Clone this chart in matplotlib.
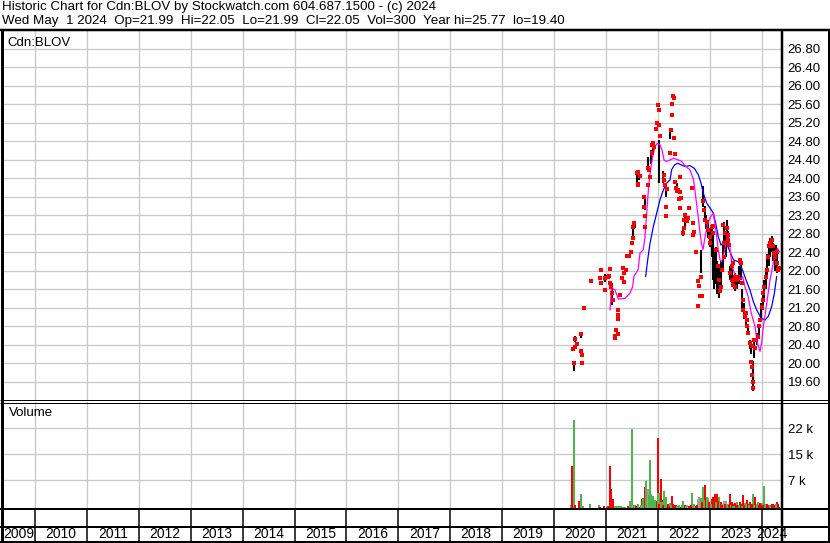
import matplotlib
matplotlib.use("Agg")
import matplotlib.pyplot as plt
from matplotlib.lines import Line2D

# ---- data (dates as decimal years) ----
close_t = [2020.360, 2020.379, 2020.398, 2020.404, 2020.443, 2020.514, 2020.520, 2020.530, 2020.535,
           2020.578, 2020.713, 2020.886, 2020.900, 2020.906, 2020.977, 2020.985, 2021.046, 2021.066,
           2021.079, 2021.085, 2021.098, 2021.110, 2021.140, 2021.175, 2021.180, 2021.194, 2021.227,
           2021.230, 2021.235, 2021.240, 2021.272, 2021.304, 2021.335, 2021.340, 2021.345, 2021.381,
           2021.390, 2021.416, 2021.445, 2021.493, 2021.505, 2021.518, 2021.524, 2021.550, 2021.607,
           2021.610, 2021.614, 2021.620, 2021.652, 2021.730, 2021.734, 2021.750, 2021.760, 2021.803,
           2021.810, 2021.830, 2021.842, 2021.880, 2021.890, 2021.910, 2021.920, 2021.965, 2021.977,
           2021.998, 2022.017, 2022.020, 2022.040, 2022.120, 2022.125, 2022.133, 2022.150, 2022.165,
           2022.170, 2022.235, 2022.248, 2022.270, 2022.274, 2022.287, 2022.306, 2022.318, 2022.331,
           2022.340, 2022.356, 2022.370, 2022.380, 2022.410, 2022.420, 2022.428, 2022.432, 2022.440,
           2022.490, 2022.500, 2022.506, 2022.520, 2022.553, 2022.575, 2022.600, 2022.650, 2022.670,
           2022.680, 2022.695, 2022.736, 2022.768, 2022.780, 2022.794, 2022.813, 2022.832, 2022.845,
           2022.877, 2022.896, 2022.910, 2022.942, 2022.973, 2023.006, 2023.010, 2023.038, 2023.056,
           2023.068, 2023.115, 2023.166, 2023.185, 2023.199, 2023.215, 2023.230, 2023.262, 2023.270,
           2023.276, 2023.295, 2023.327, 2023.346, 2023.358, 2023.377, 2023.391, 2023.424, 2023.430,
           2023.440, 2023.455, 2023.470, 2023.487, 2023.495, 2023.520, 2023.551, 2023.584, 2023.597,
           2023.616, 2023.635, 2023.647, 2023.680, 2023.699, 2023.712, 2023.724, 2023.743, 2023.776,
           2023.789, 2023.809, 2023.815, 2023.821, 2023.828, 2023.840, 2023.850, 2023.873, 2023.936,
           2023.955, 2023.969, 2024.002, 2024.020, 2024.033, 2024.052, 2024.085, 2024.098, 2024.129,
           2024.148, 2024.162, 2024.195, 2024.226, 2024.239, 2024.258, 2024.290, 2024.303, 2024.322,
           2024.335]
close_p = [20.30, 19.99, 20.51, 20.34, 20.42, 20.62, 20.25, 20.18, 19.99,
           21.20, 21.78, 21.84, 22.02, 21.72, 21.84, 21.57, 21.87, 21.88,
           22.04, 21.73, 21.65, 21.51, 21.37, 20.59, 20.54, 20.72, 20.63,
           21.04, 20.96, 21.15, 21.47, 21.84, 22.05, 21.94, 21.76, 22.02,
           22.02, 22.32, 22.32, 22.39, 22.60, 22.70, 22.95, 23.02, 24.10,
           23.85, 23.87, 24.13, 24.05, 23.37, 23.59, 22.95, 23.17, 23.85,
           24.21, 24.18, 24.02, 24.72, 24.54, 24.75, 24.68, 25.05, 25.19,
           25.58, 25.47, 25.15, 24.90, 23.96, 24.07, 23.85, 23.38, 23.18,
           23.76, 24.54, 25.04, 25.37, 25.60, 25.78, 25.74, 24.86, 24.52,
           23.92, 23.78, 23.73, 23.74, 23.55, 23.35, 24.02, 23.69, 23.57,
           22.81, 22.92, 23.10, 23.20, 23.07, 23.13, 23.35, 23.78, 23.02,
           22.77, 22.84, 22.39, 21.78, 21.24, 21.67, 21.44, 21.85, 21.44,
           23.50, 23.31, 23.10, 23.05, 22.88, 22.73, 22.59, 22.95, 22.81,
           22.97, 22.45, 22.09, 21.80, 21.55, 21.65, 22.02, 22.99, 22.30,
           22.59, 22.81, 22.92, 22.66, 22.77, 22.56, 21.94, 21.80, 22.09,
           22.16, 21.69, 21.80, 21.87, 21.65, 21.80, 21.87, 22.23, 22.16,
           21.72, 21.37, 21.15, 21.01, 21.08, 20.93, 20.79, 20.65, 20.43,
           20.03, 20.36, 19.92, 19.74, 19.46, 19.58, 20.50, 20.32, 20.57,
           20.79, 20.93, 21.22, 21.37, 21.51, 21.65, 21.87, 22.02, 22.30,
           22.52, 22.59, 22.66, 22.52, 22.38, 22.30, 22.41, 22.16, 22.02,
           22.05]

bar_t = [2020.379, 2020.398, 2020.516, 2020.520, 2020.977, 2021.117, 2021.524, 2021.570, 2021.607,
         2021.640, 2021.744, 2021.760, 2021.820, 2021.866, 2021.905, 2022.030, 2022.108, 2022.162,
         2022.235, 2022.370, 2022.492, 2022.530, 2022.832, 2022.877, 2022.900, 2022.928, 2022.967,
         2023.006, 2023.035, 2023.054, 2023.073, 2023.092, 2023.120, 2023.140, 2023.170, 2023.218,
         2023.247, 2023.276, 2023.305, 2023.327, 2023.352, 2023.400, 2023.430, 2023.460, 2023.487,
         2023.526, 2023.565, 2023.603, 2023.630, 2023.660, 2023.700, 2023.738, 2023.776, 2023.805,
         2023.825, 2023.840, 2023.863, 2023.920, 2023.950, 2023.988, 2024.018, 2024.047, 2024.076,
         2024.105, 2024.133, 2024.162, 2024.191, 2024.220, 2024.249, 2024.278, 2024.306, 2024.335]
bar_hi = [20.00, 20.58, 20.64, 20.28, 21.92, 21.73, 23.00, 23.02, 24.15,
          24.10, 23.62, 23.50, 24.46, 24.60, 24.80, 24.82, 24.15, 23.82,
          25.05, 23.90, 22.95, 23.15, 22.45, 23.82, 23.40, 23.20, 23.10,
          22.90, 23.00, 22.80, 22.60, 22.40, 22.50, 22.20, 22.10, 22.20,
          22.60, 23.05, 22.85, 23.10, 22.85, 22.10, 22.20, 21.90, 21.95,
          21.85, 22.10, 22.25, 21.60, 21.30, 21.10, 20.85, 20.50, 20.45,
          20.05, 19.70, 20.55, 20.65, 20.85, 21.30, 21.50, 21.80, 22.00,
          22.35, 22.55, 22.70, 22.75, 22.60, 22.50, 22.55, 22.40, 22.05]
bar_lo = [19.83, 20.45, 20.55, 20.16, 21.75, 21.26, 22.75, 22.92, 23.85,
          23.95, 23.40, 23.30, 24.18, 24.30, 24.55, 23.89, 23.90, 23.60,
          24.85, 23.70, 22.75, 22.95, 21.94, 23.38, 23.10, 22.90, 22.70,
          22.50, 22.30, 22.00, 21.80, 21.60, 21.70, 21.50, 21.40, 21.60,
          22.00, 22.40, 22.30, 22.80, 22.55, 21.80, 21.70, 21.60, 21.55,
          21.60, 21.70, 21.80, 21.20, 20.95, 20.85, 20.60, 20.30, 20.20,
          19.60, 19.40, 20.10, 20.40, 20.55, 20.90, 21.15, 21.40, 21.60,
          21.90, 22.10, 22.30, 22.40, 22.20, 22.00, 22.10, 21.95, 21.99]

ma_short_t = [2021.079, 2021.110, 2021.175, 2021.240, 2021.368, 2021.464, 2021.515, 2021.540, 2021.620,
              2021.657, 2021.720, 2021.753, 2021.786, 2021.818, 2021.850, 2021.900, 2021.946, 2021.990,
              2022.042, 2022.080, 2022.120, 2022.160, 2022.235, 2022.300, 2022.400, 2022.460, 2022.520,
              2022.620, 2022.690, 2022.730, 2022.770, 2022.800, 2022.840, 2022.870, 2022.900, 2022.960,
              2023.020, 2023.070, 2023.100, 2023.135, 2023.165, 2023.199, 2023.230, 2023.262, 2023.300,
              2023.340, 2023.370, 2023.395, 2023.430, 2023.500, 2023.580, 2023.635, 2023.680, 2023.740,
              2023.800, 2023.873, 2023.918, 2023.969, 2024.000, 2024.033, 2024.090, 2024.162, 2024.226,
              2024.275, 2024.306, 2024.340]
ma_short_p = [21.15, 21.62, 21.58, 21.38, 21.40, 21.51, 21.65, 21.87, 22.02,
              22.38, 22.45, 22.73, 23.24, 23.74, 24.10, 24.46, 24.68, 24.75,
              24.72, 24.61, 24.39, 24.36, 24.39, 24.43, 24.39, 24.36, 24.27,
              24.18, 23.96, 23.60, 23.24, 22.95, 22.59, 22.45, 22.66, 23.02,
              23.17, 23.24, 23.02, 22.73, 22.45, 22.23, 22.19, 22.30, 22.52,
              22.73, 22.73, 22.45, 22.09, 21.87, 21.80, 21.87, 21.65, 21.44,
              21.08, 20.79, 20.43, 20.25, 20.43, 20.79, 21.22, 21.80, 22.16,
              22.38, 22.48, 22.41]

ma_long_t = [2021.766, 2021.805, 2021.850, 2021.914, 2021.978, 2022.042, 2022.106, 2022.170, 2022.235,
             2022.267, 2022.319, 2022.383, 2022.460, 2022.524, 2022.620, 2022.704, 2022.781, 2022.833,
             2022.877, 2022.942, 2023.006, 2023.071, 2023.115, 2023.166, 2023.218, 2023.262, 2023.327,
             2023.374, 2023.456, 2023.552, 2023.629, 2023.712, 2023.776, 2023.840, 2023.905, 2023.989,
             2024.066, 2024.130, 2024.194, 2024.246, 2024.290]
ma_long_p = [21.87, 22.23, 22.59, 22.95, 23.24, 23.53, 23.74, 23.89, 23.96,
             24.18, 24.28, 24.32, 24.28, 24.25, 24.27, 24.21, 24.07, 23.89,
             23.67, 23.46, 23.35, 23.24, 23.02, 22.73, 22.55, 22.59, 22.59,
             22.45, 22.23, 22.19, 22.02, 21.76, 21.58, 21.33, 21.15, 20.97,
             20.93, 21.01, 21.22, 21.51, 21.87]

# volume in thousands; g = up day, r = down day, n = unchanged
vol_t = [2020.328, 2020.347, 2020.379, 2020.398, 2020.482, 2020.514, 2020.553, 2020.688, 2020.861,
         2020.886, 2020.957, 2021.015, 2021.034, 2021.073, 2021.104, 2021.137, 2021.170, 2021.210,
         2021.245, 2021.290, 2021.330, 2021.368, 2021.432, 2021.464, 2021.497, 2021.528, 2021.613,
         2021.657, 2021.700, 2021.760, 2021.780, 2021.813, 2021.850, 2021.880, 2021.910, 2021.958,
         2021.998, 2022.015, 2022.055, 2022.086, 2022.120, 2022.158, 2022.190, 2022.235, 2022.268,
         2022.300, 2022.350, 2022.410, 2022.490, 2022.524, 2022.568, 2022.665, 2022.717, 2022.780,
         2022.800, 2022.826, 2022.865, 2022.910, 2022.942, 2022.973, 2023.038, 2023.068, 2023.102,
         2023.147, 2023.180, 2023.212, 2023.244, 2023.276, 2023.314, 2023.352, 2023.391, 2023.424,
         2023.487, 2023.520, 2023.584, 2023.635, 2023.680, 2023.712, 2023.776, 2023.828, 2023.873,
         2023.925, 2023.969, 2024.008, 2024.047, 2024.098, 2024.143, 2024.180, 2024.220, 2024.258,
         2024.290, 2024.322,
         2021.550, 2021.580, 2021.680, 2021.720, 2021.830, 2021.865, 2021.940, 2022.030, 2022.070,
         2022.100, 2022.140, 2022.210, 2022.250, 2022.330, 2022.380, 2022.440, 2022.460, 2022.550,
         2022.600, 2022.640, 2022.690, 2022.750, 2022.850, 2022.890, 2022.990, 2023.020, 2023.085,
         2023.125, 2023.160, 2023.230, 2023.290, 2023.330, 2023.370, 2023.410, 2023.440, 2023.460,
         2023.500, 2023.540, 2023.560, 2023.600, 2023.620, 2023.660, 2023.700, 2023.730, 2023.750,
         2023.790, 2023.810, 2023.850, 2023.890, 2023.910, 2023.950, 2023.990, 2024.030, 2024.070,
         2024.120, 2024.160, 2024.200, 2024.240, 2024.270, 2024.310, 2024.335]
vol_k = [1.1, 11.7, 24.3, 1.0, 2.3, 4.1, 0.8, 1.5, 1.1,
         0.6, 0.7, 0.6, 0.7, 11.7, 5.4, 2.7, 0.7, 0.8,
         0.7, 0.9, 0.6, 0.6, 0.9, 2.2, 21.8, 1.2, 1.5,
         0.6, 2.6, 5.9, 7.6, 5.4, 13.4, 3.5, 3.5, 2.3,
         19.3, 4.3, 8.2, 2.4, 5.0, 3.4, 1.3, 1.7, 3.5,
         1.3, 1.0, 1.2, 2.3, 1.0, 1.2, 4.5, 0.8, 2.8,
         3.4, 3.0, 6.1, 6.5, 3.2, 3.0, 2.8, 3.4, 4.0,
         4.2, 3.4, 2.0, 1.5, 2.2, 2.2, 1.4, 4.1, 1.8,
         1.7, 2.0, 1.8, 3.7, 1.7, 2.4, 2.0, 4.1, 3.3,
         2.0, 1.7, 1.7, 6.3, 1.5, 1.2, 1.0, 1.5, 1.0,
         1.8, 1.2,
         1.0, 0.8, 1.2, 3.0, 3.8, 4.0, 2.5, 1.5, 2.0,
         1.2, 1.5, 0.8, 1.0, 1.0, 0.7, 0.6, 1.0, 0.8,
         0.7, 1.0, 1.5, 1.0, 2.0, 2.5, 1.8, 1.5, 2.0,
         1.8, 2.2, 1.2, 1.4, 1.0, 1.2, 1.0, 1.5, 0.8,
         1.2, 1.0, 1.2, 1.5, 0.8, 1.2, 1.5, 1.5, 1.0,
         1.2, 1.5, 1.2, 1.0, 1.5, 1.2, 1.0, 1.2, 1.5,
         1.0, 1.2, 1.3, 1.0, 1.4, 1.5, 0.5]
vol_dir = ['g', 'r', 'g', 'r', 'r', 'g', 'g', 'g', 'g',
           'r', 'r', 'g', 'r', 'r', 'r', 'r', 'g', 'g',
           'g', 'g', 'g', 'g', 'r', 'g', 'g', 'n', 'g',
           'r', 'r', 'r', 'g', 'n', 'g', 'g', 'g', 'r',
           'r', 'g', 'r', 'r', 'g', 'g', 'r', 'g', 'r',
           'r', 'r', 'g', 'g', 'r', 'n', 'g', 'r', 'n',
           'n', 'g', 'g', 'r', 'g', 'g', 'r', 'r', 'r',
           'r', 'g', 'r', 'g', 'n', 'n', 'g', 'r', 'r',
           'r', 'g', 'r', 'r', 'g', 'r', 'r', 'g', 'r',
           'g', 'r', 'g', 'g', 'r', 'r', 'g', 'r', 'g',
           'r', 'r',
           'g', 'r', 'g', 'g', 'g', 'g', 'g', 'r', 'g',
           'r', 'g', 'r', 'g', 'r', 'g', 'r', 'g', 'g',
           'r', 'r', 'g', 'r', 'r', 'g', 'r', 'g', 'r',
           'g', 'r', 'r', 'r', 'g', 'r', 'g', 'r', 'g',
           'r', 'r', 'g', 'r', 'g', 'r', 'g', 'r', 'g',
           'r', 'r', 'g', 'r', 'g', 'r', 'r', 'r', 'g',
           'r', 'g', 'r', 'r', 'g', 'r', 'r']

years = list(range(2009, 2025))
price_ticks = [19.6, 20.0, 20.4, 20.8, 21.2, 21.6, 22.0, 22.4, 22.8, 23.2, 23.6,
               24.0, 24.4, 24.8, 25.2, 25.6, 26.0, 26.4, 26.8]
vol_ticks = [7.8, 14.9, 22.0]
vol_labels = ["7 k", "15 k", "22 k"]

header1 = "Historic Chart for Cdn:BLOV by Stockwatch.com 604.687.1500 - (c) 2024"
header2 = "Wed May  1 2024  Op=21.99  Hi=22.05  Lo=21.99  Cl=22.05  Vol=300  Year hi=25.77  lo=19.40"

# ---- layout (pixel positions of the original) ----
W, H = 830, 543
plt.rcParams['font.family'] = ['Liberation Sans', 'DejaVu Sans']
fig = plt.figure(figsize=(W / 100, H / 100), dpi=100)


def fx(x):
    return x / W


def fy(y):
    return 1 - y / H


def line(x0, y0, x1, y1, lw=1.0):
    fig.add_artist(Line2D([fx(x0), fx(x1)], [fy(y0), fy(y1)], color='black', lw=lw * 0.72,
                          solid_capstyle='butt'))


L, R = 3, 782
X0, X1 = 2009.383, 2024.393
grid = '#c8c8c8'

ax = fig.add_axes([fx(L), fy(400), fx(R) - fx(L), fy(31) - fy(400)])
vx = fig.add_axes([fx(L), fy(509), fx(R) - fx(L), fy(402) - fy(509)])

for a in (ax, vx):
    a.set_xlim(X0, X1)
    a.set_xticks(years[1:])
    a.tick_params(axis='x', length=0, labelbottom=False)
    a.grid(True, color=grid, lw=0.9)
    a.set_axisbelow(True)
    for s in a.spines.values():
        s.set_visible(False)
    a.yaxis.tick_right()
    a.tick_params(axis='y', length=0, pad=4, labelsize=9.5)

ax.set_ylim(19.20, 27.18)
ax.set_yticks(price_ticks)
ax.set_yticklabels(["%.2f" % v for v in price_ticks])

vx.set_ylim(0, 29.2)
vx.set_yticks(vol_ticks)
vx.set_yticklabels(vol_labels)

# price marks
ax.vlines(bar_t, bar_lo, bar_hi, color='black', lw=1.5)
ax.plot(ma_long_t, ma_long_p, color='#0000ff', lw=0.9)
ax.plot(ma_short_t, ma_short_p, color='#ff00ff', lw=0.9)
ax.scatter(close_t, close_p, s=7, marker='s', color='#ff0000', linewidths=0, zorder=4)
ax.text(0.006, 0.985, "Cdn:BLOV", transform=ax.transAxes,
        fontsize=9.5, va='top', ha='left')

# volume marks
cmap = {'g': '#4cb84c', 'r': '#ff0000', 'n': '#a0a0a0'}
vx.bar(vol_t, vol_k, width=0.042, color=[cmap[c] for c in vol_dir], lw=0)
vx.text(0.008, 0.95, "Volume", transform=vx.transAxes, fontsize=9.5, va='top', ha='left')

# header
fig.text(fx(2), fy(1), header1, fontsize=9.6, va='top', ha='left')
fig.text(fx(2), fy(15), header2, fontsize=9.6, va='top', ha='left')

# frame
line(0, 30, W, 30, 2.5)
line(1.5, 30, 1.5, 542, 3)
line(W - 1.5, 30, W - 1.5, 542, 2)
line(0, 541.5, W, 541.5, 2)
line(R, 30, R, 542, 2.5)
line(0, 400, W, 400, 1)
line(0, 402.5, W, 402.5, 1)
line(0, 509, W, 509, 2)
line(0, 526.5, W, 526.5, 2)

# year cells
for yr in years:
    if yr > 2009:
        xp = L + (yr - X0) / (X1 - X0) * (R - L)
        line(xp, 509, xp, 541, 1.5)
    a0 = max(yr, X0)
    a1 = min(yr + 1, X1)
    xc = L + ((a0 + a1) / 2 - X0) / (X1 - X0) * (R - L)
    fig.text(fx(xc), fy(534.5), str(yr), fontsize=10, ha='center', va='center')

fig.savefig("out.png", dpi=100)
